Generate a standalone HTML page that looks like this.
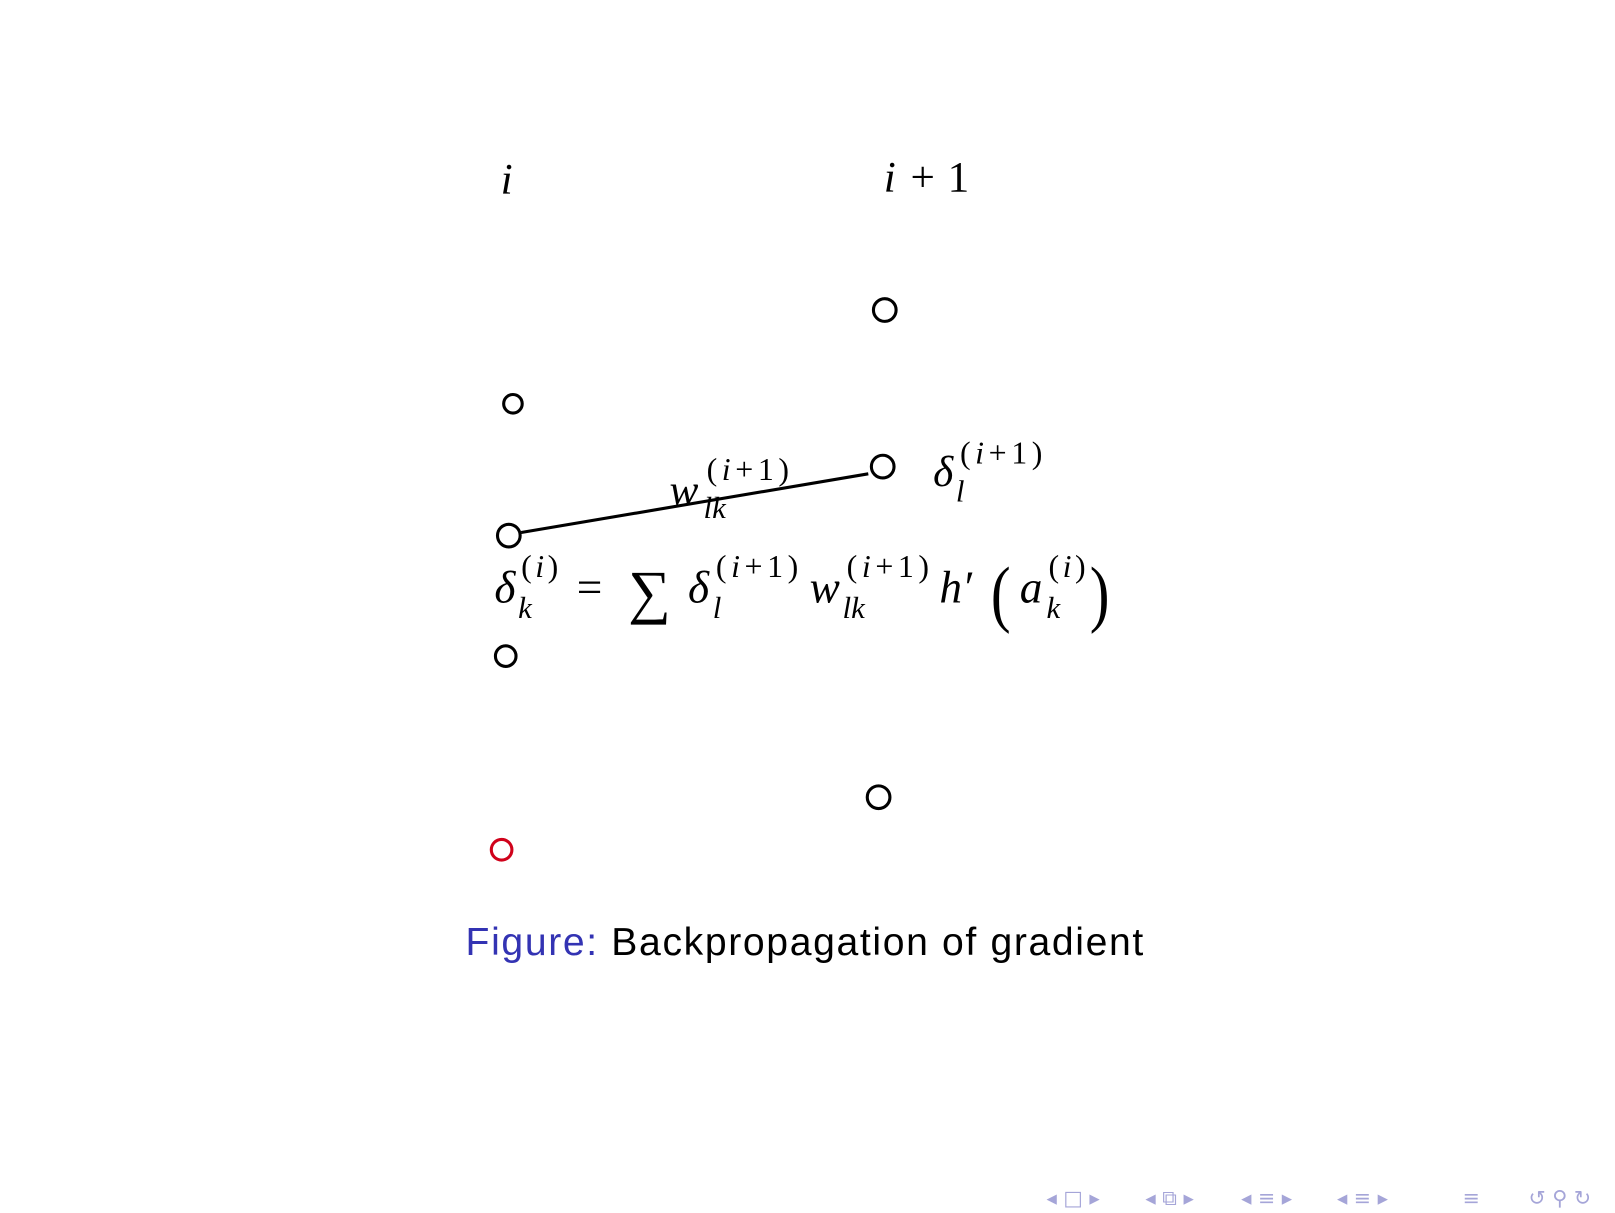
<!DOCTYPE html>
<html><head><meta charset="utf-8"><style>
html,body{margin:0;padding:0;background:#fff;}
svg{display:block;}
.m{font-family:"Liberation Serif",serif;font-style:italic;fill:#000;}
.r{font-family:"Liberation Serif",serif;fill:#000;}
</style></head><body>
<svg width="1615" height="1213" viewBox="0 0 1615 1213">
<rect width="1615" height="1213" fill="#fff"/>
<g transform="scale(1.03)">
<text x="486" y="188" class="m" font-size="42">i</text>
<g>
<text x="858" y="186" class="m" font-size="42">i</text>
<text x="884" y="186" class="r" font-size="42">+</text>
<text x="920" y="186" class="r" font-size="42">1</text>
</g>
<g fill="none" stroke="#000" stroke-width="3">
<circle cx="859" cy="301" r="11"/>
<circle cx="498" cy="392" r="9"/>
<circle cx="857" cy="453" r="11"/>
<circle cx="494" cy="520" r="11"/>
<circle cx="491" cy="637" r="10"/>
<circle cx="853" cy="774" r="11"/>
<circle cx="487" cy="825" r="10" stroke="#d0021b"/>
</g>
<line x1="506" y1="517" x2="843" y2="460" stroke="#000" stroke-width="3"/>
<g>
<text x="650" y="490" class="m" font-size="42">w</text>
<text x="686" y="466" class="r" font-size="31" textLength="80" lengthAdjust="spacing">(<tspan font-style="italic">i</tspan>+1)</text>
<text x="683" y="503" class="m" font-size="30">lk</text>
</g>
<g>
<text x="906" y="472" class="m" font-size="42">δ</text>
<text x="932" y="450" class="r" font-size="31" textLength="80" lengthAdjust="spacing">(<tspan font-style="italic">i</tspan>+1)</text>
<text x="928" y="487" class="m" font-size="30">l</text>
</g>
<g>
<text x="480" y="585" class="m" font-size="44">δ</text>
<text x="506" y="560" class="r" font-size="31" textLength="36" lengthAdjust="spacing">(<tspan font-style="italic">i</tspan>)</text>
<text x="503" y="600" class="m" font-size="30">k</text>
<text x="560" y="585" class="r" font-size="44">=</text>
<text x="610" y="594" class="r" font-size="58">∑</text>
<text x="668" y="585" class="m" font-size="44">δ</text>
<text x="695" y="560" class="r" font-size="31" textLength="80" lengthAdjust="spacing">(<tspan font-style="italic">i</tspan>+1)</text>
<text x="692" y="600" class="m" font-size="30">l</text>
<text x="786" y="585" class="m" font-size="44">w</text>
<text x="822" y="560" class="r" font-size="31" textLength="80" lengthAdjust="spacing">(<tspan font-style="italic">i</tspan>+1)</text>
<text x="818" y="600" class="m" font-size="30">lk</text>
<text x="912" y="585" class="m" font-size="44">h′</text>
<text x="962" y="600" class="r" font-size="72" transform="translate(962,600) scale(0.8,1) translate(-962,-600)">(</text>
<text x="990" y="585" class="m" font-size="44">a</text>
<text x="1018" y="560" class="r" font-size="31" textLength="36" lengthAdjust="spacing">(<tspan font-style="italic">i</tspan>)</text>
<text x="1016" y="600" class="m" font-size="30">k</text>
<text x="1058" y="600" class="r" font-size="72" transform="translate(1058,600) scale(0.8,1) translate(-1058,-600)">)</text>
</g>
<text x="452" y="927" font-family="'Liberation Sans',sans-serif" font-size="38" textLength="658" lengthAdjust="spacing"><tspan fill="#3333b3">Figure:</tspan><tspan fill="#000"> Backpropagation of gradient</tspan></text>
<g fill="#a5a5d8" font-family="'DejaVu Sans',sans-serif" font-size="20">
<text x="1016" y="1170">◂ □ ▸</text>
<text x="1112" y="1170">◂ ⧉ ▸</text>
<text x="1205" y="1170">◂ ≡ ▸</text>
<text x="1298" y="1170">◂ ≡ ▸</text>
<text x="1420" y="1170">≡</text>
<text x="1484" y="1170">↺ ⚲ ↻</text>
</g>
</g>
</svg>
</body></html>
